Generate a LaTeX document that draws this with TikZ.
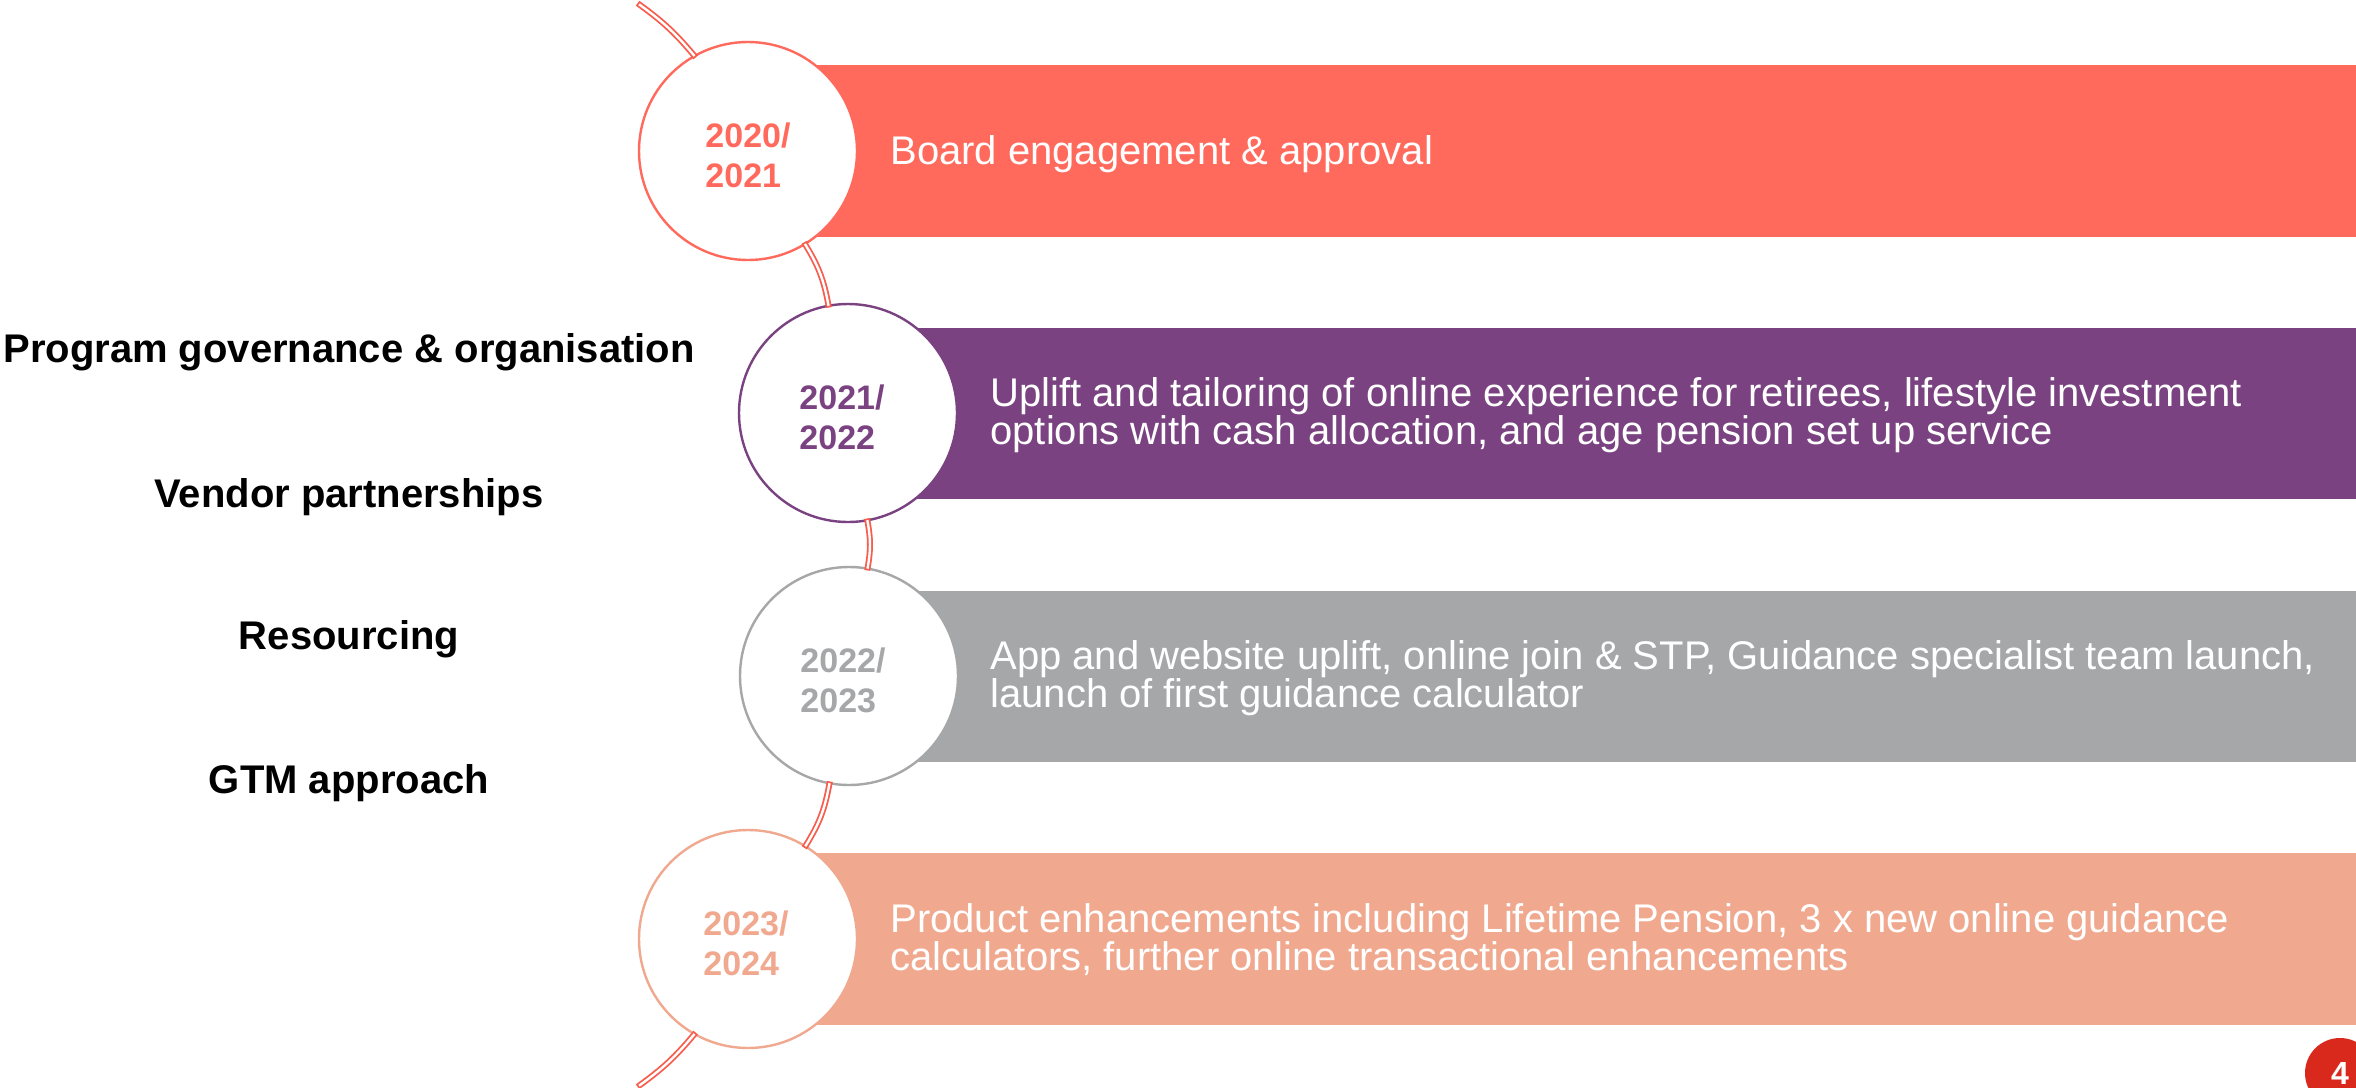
\documentclass[tikz,border=0pt]{standalone}
\usepackage{fontspec}
\setmainfont{Liberation Sans}
\definecolor{coral}{HTML}{FF6A5C}
\definecolor{plum}{HTML}{7B4282}
\definecolor{ash}{HTML}{A6A7A9}
\definecolor{peach}{HTML}{F0A98F}
\definecolor{linkred}{HTML}{F85C4C}
\definecolor{badgered}{HTML}{D9291C}
\tikzset{
  yearcirc/.style={circle, draw=#1, fill=white, line width=1.2pt, minimum size=109pt, inner sep=0pt},
  yeartext/.style={text=#1, font=\fontsize{17pt}{20pt}\selectfont\bfseries, align=left, inner sep=0pt},
  band/.style={fill=#1, draw=none},
  bartext/.style={text=white, font=\fontsize{20pt}{19pt}\selectfont, align=left, anchor=base west, inner sep=0pt},
  sidelabel/.style={font=\fontsize{20pt}{24pt}\selectfont\bfseries, anchor=base, inner sep=0pt},
  link/.style={draw=linkred, line width=0.9pt, double=white, double distance=1.2pt, line cap=rect}
}
\begin{document}
\begin{tikzpicture}[x=0.5pt, y=-0.5pt]
\useasboundingbox (0,0) rectangle (2356,1087);
\clip (0,0) rectangle (2356,1087);
\fill[white] (0,0) rectangle (2356,1087);
% bands
\path[band=coral] (748,65) rectangle (2356,237);
\path[band=plum] (848,328) rectangle (2356,499);
\path[band=ash] (849,591) rectangle (2356,762);
\path[band=peach] (748,853) rectangle (2356,1025);
% circles
\node[yearcirc=coral] (c1) at (748,151) {};
\node[yearcirc=plum] (c2) at (848,413) {};
\node[yearcirc=ash] (c3) at (849,676) {};
\node[yearcirc=peach] (c4) at (748,939) {};
% connectors
\coordinate (top) at (640,5);
\coordinate (bot) at (640,1085);
\draw[link] (top) to[bend left=7] (c1);
\draw[link] (c1) to[bend left=10.6] (c2);
\draw[link] (c2) to[bend left=10] (c3);
\draw[link] (c3) to[bend left=10.7] (c4);
\draw[link] (c4) to[bend left=7] (bot);
% year texts
\node[yeartext=coral] (y1) at ([yshift=-2pt]c1.center) {2020/\\2021};
\node[yeartext=plum] (y2) at ([xshift=-3pt,yshift=-2pt]c2.center) {2021/\\2022};
\node[yeartext=ash] (y3) at ([xshift=-3pt,yshift=-2pt]c3.center) {2022/\\2023};
\node[yeartext=peach] (y4) at ([xshift=-1pt,yshift=-2pt]c4.center) {2023/\\2024};
% bar texts (anchor = baseline of last line)
\node[bartext] (t1) at (890,164) {Board engagement \& approval};
\node[bartext] (t2) at (990,444) {Uplift and tailoring of online experience for retirees, lifestyle investment\\options with cash allocation, and age pension set up service};
\node[bartext] (t3) at (990,707) {App and website uplift, online join \& STP, Guidance specialist team launch,\\launch of first guidance calculator};
\node[bartext] (t4) at (890,970) {Product enhancements including Lifetime Pension, 3 x new online guidance\\calculators, further online transactional enhancements};
% side labels
\node[sidelabel] (l1) at (349,362) {Program governance \& organisation};
\node[sidelabel] (l2) at (349,507) {Vendor partnerships};
\node[sidelabel] (l3) at (349,649) {Resourcing};
\node[sidelabel] (l4) at (349,793) {GTM approach};
% page badge
\node[circle, fill=badgered, minimum size=35pt, inner sep=0pt] (badge) at (2340,1073) {};
\node[text=white, font=\fontsize{16pt}{16pt}\selectfont\bfseries, inner sep=0pt] (pg) at (badge.center) {4};
\end{tikzpicture}
\end{document}
